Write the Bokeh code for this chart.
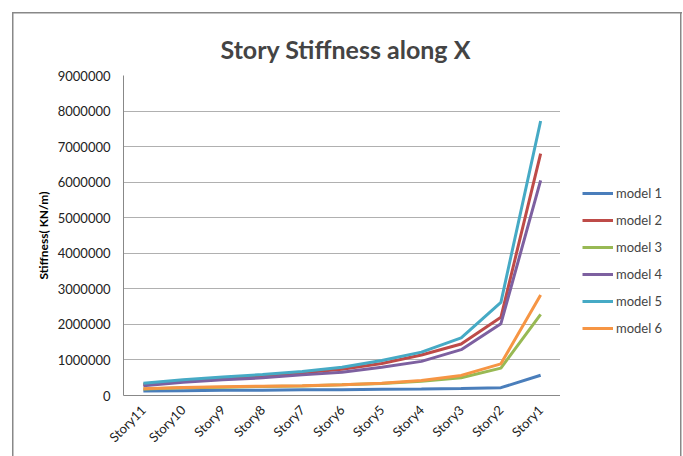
import math
from bokeh.plotting import figure
from bokeh.layouts import row
from bokeh.models import (Legend, LegendItem, FixedTicker, BasicTickFormatter, Range1d)
from bokeh.embed import file_html
from bokeh.resources import INLINE

stories = ["Story11", "Story10", "Story9", "Story8", "Story7", "Story6",
           "Story5", "Story4", "Story3", "Story2", "Story1"]
model1 = [125000, 135000, 145000, 150000, 160000, 165000, 175000, 185000, 200000, 220000, 570000]
model2 = [310000, 420000, 490000, 560000, 640000, 740000, 900000, 1140000, 1450000, 2200000, 6800000]
model3 = [180000, 215000, 235000, 255000, 270000, 300000, 340000, 400000, 500000, 770000, 2280000]
model4 = [272000, 375000, 440000, 497000, 580000, 656000, 797000, 960000, 1290000, 2020000, 6050000]
model5 = [346000, 446000, 521000, 590000, 675000, 797000, 984000, 1220000, 1620000, 2620000, 7720000]
model6 = [190000, 225000, 245000, 262000, 275000, 300000, 346000, 425000, 565000, 890000, 2830000]
series = [("model 1", model1, "#4A7EBB"), ("model 2", model2, "#BE4B48"),
          ("model 3", model3, "#98B954"), ("model 4", model4, "#7D60A0"),
          ("model 5", model5, "#46AAC5"), ("model 6", model6, "#F69544")]
yticks = list(range(0, 9000001, 1000000))

FONT = "Lato"

p = figure(width=560, height=456, x_range=stories, y_range=Range1d(0, 9000000),
           output_backend="svg", toolbar_location=None,
           min_border_left=123, min_border_right=0, min_border_top=75,
           min_border_bottom=61, title="Story Stiffness along X")
p.outline_line_color = None
p.background_fill_color = "white"
p.border_fill_alpha = 0

p.title.align = "left"
p.title.offset = 97
p.title.text_font = FONT
p.title.text_font_style = "bold"
p.title.text_font_size = "25px"
p.title.standoff = 24

p.xgrid.grid_line_color = None
p.ygrid.grid_line_color = "#B0B0B0"
p.ygrid.grid_line_width = 1

p.yaxis.ticker = FixedTicker(ticks=yticks)
p.yaxis.formatter = BasicTickFormatter(use_scientific=False)
p.yaxis.axis_label = "Stiffness( KN/m)"
p.yaxis.axis_label_text_font = FONT
p.yaxis.axis_label_text_font_style = "bold"
p.yaxis.axis_label_text_font_size = "12px"
p.yaxis.axis_label_text_color = "#000000"
p.yaxis.axis_label_standoff = 4

for ax in (p.xaxis, p.yaxis):
    ax.axis_line_color = "#888888"
    ax.major_tick_line_color = None
    ax.minor_tick_line_color = None
    ax.major_label_text_font = FONT
    ax.major_label_text_font_size = "13px"
    ax.major_label_text_color = "#222222"
p.yaxis.major_label_standoff = 7
p.xaxis.major_label_orientation = math.pi / 4
p.xaxis.major_label_standoff = 6

for name, vals, col in series:
    p.line(stories, vals, line_color=col, line_width=3)

# legend panel to the right of the plot area (its lines fall outside its own view)
lg = figure(width=123, height=456, x_range=stories, y_range=Range1d(-2, -1),
            output_backend="svg", toolbar_location=None,
            x_axis_type=None, y_axis_type=None, min_border=0)
lg.outline_line_color = None
lg.grid.visible = False
lg.background_fill_alpha = 0
lg.border_fill_alpha = 0
items = []
for name, vals, col in series:
    r = lg.line(stories, vals, line_color=col, line_width=3)
    items.append(LegendItem(label=name, renderers=[r]))
legend = Legend(items=items, location=(22, 57), glyph_width=31, glyph_height=20,
                label_height=20, spacing=7, padding=0, margin=0, label_standoff=3,
                label_text_font=FONT, label_text_font_size="13px",
                background_fill_alpha=0, border_line_color=None)
lg.add_layout(legend)

layout = row(p, lg, spacing=0)
# outer chart border
layout.styles = {
    "background": ("linear-gradient(#888,#888) 12px 12px / 670px 1.5px no-repeat, "
                   "linear-gradient(#888,#888) 12px 12px / 1.5px 460px no-repeat, "
                   "linear-gradient(#888,#888) 680px 12px / 1.5px 460px no-repeat, white")
}

open("out.html", "w").write(file_html(layout, INLINE))
